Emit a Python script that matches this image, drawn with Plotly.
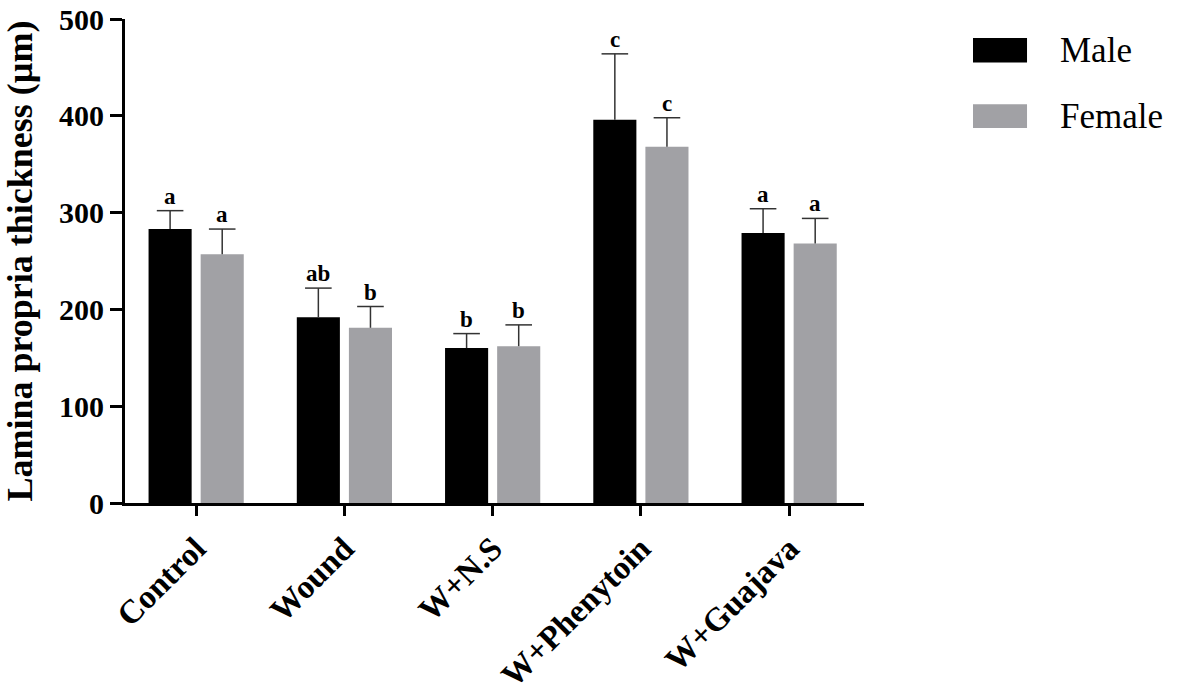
import plotly.graph_objects as go

categories = ["Control", "Wound", "W+N.S", "W+Phenytoin", "W+Guajava"]
series_names = ["Male", "Female"]
male_values = [283, 192, 160, 396, 279]
male_errors = [19, 30, 15, 68, 25]
female_values = [257, 181, 162, 368, 268]
female_errors = [26, 22, 22, 30, 26]
male_letters = ["a", "ab", "b", "c", "a"]
female_letters = ["a", "b", "b", "c", "a"]
y_ticks = [0, 100, 200, 300, 400, 500]

MALE_COLOR = "#000000"
FEMALE_COLOR = "#a1a1a5"
ERR_COLOR = "#333333"
FONT = "Liberation Serif"
BARGAP = 0.297
BARGROUPGAP = 0.173

x_idx = list(range(len(categories)))
series = [
    (series_names[0], male_values, male_errors, MALE_COLOR, male_letters),
    (series_names[1], female_values, female_errors, FEMALE_COLOR, female_letters),
]
slot = (1 - BARGAP) / 2
offsets = [-slot / 2, slot / 2]

fig = go.Figure()
# bars with the vertical stem of the (upper-only) error bars, no end caps
for name, vals, errs, color, _ in series:
    fig.add_trace(go.Bar(
        x=x_idx, y=vals, name=name, offsetgroup=name,
        marker=dict(color=color, line=dict(width=0)),
        error_y=dict(type="data", array=errs, arrayminus=[0] * len(errs),
                     symmetric=False, color=ERR_COLOR, thickness=1.5, width=0),
        showlegend=False,
    ))
# top caps of the error bars
for off, (name, vals, errs, color, letters) in zip(offsets, series):
    fig.add_trace(go.Scatter(
        x=[i + off for i in x_idx], y=[v + e for v, e in zip(vals, errs)],
        mode="markers", showlegend=False, hoverinfo="skip",
        marker=dict(symbol="line-ew", size=19, line=dict(color=ERR_COLOR, width=1.5)),
    ))
    for i, (v, e, t) in enumerate(zip(vals, errs, letters)):
        fig.add_annotation(x=i + off, y=v + e, text=f"<b>{t}</b>", showarrow=False,
                           xref="x", yref="y", yanchor="bottom", yshift=0,
                           font=dict(family=FONT, size=23, color="black"))

# custom legend
legend_items = [(series_names[0], MALE_COLOR, 0.961, 0.910),
                (series_names[1], FEMALE_COLOR, 0.824, 0.775)]
for name, color, y1, y0 in legend_items:
    fig.add_shape(type="rect", xref="paper", yref="paper", x0=1.1475, x1=1.2206,
                  y0=y0, y1=y1, fillcolor=color, line=dict(width=0))
    fig.add_annotation(x=1.2625, y=(y0 + y1) / 2, xref="paper", yref="paper",
                       text=name, showarrow=False, xanchor="left", yanchor="middle",
                       font=dict(family=FONT, size=35, color="black"))

fig.update_layout(
    width=1179, height=698,
    margin=dict(l=125, r=315, t=19, b=195),
    paper_bgcolor="white", plot_bgcolor="white",
    barmode="group", bargap=BARGAP, bargroupgap=BARGROUPGAP,
    font=dict(family=FONT, color="black"),
)
fig.update_xaxes(
    range=[-0.48, 4.505], tickmode="array", tickvals=x_idx, ticktext=categories,
    tickangle=-45, ticks="outside", ticklen=10, tickwidth=3, tickcolor="black",
    showline=True, linewidth=3, linecolor="black", showgrid=False, zeroline=False,
    tickfont=dict(family=FONT, size=33, color="black", weight="bold"),
    automargin=False, ticklabeloverflow="allow",
)
fig.update_yaxes(
    range=[0, 500], tickmode="array", tickvals=y_ticks,
    ticks="outside", ticklen=12, tickwidth=3, tickcolor="black",
    showline=True, linewidth=3, linecolor="black", showgrid=False, zeroline=False,
    tickfont=dict(family=FONT, size=30, color="black", weight="bold"),
    title=dict(text="Lamina propria thickness (µm)", standoff=20,
               font=dict(family=FONT, size=36, color="black", weight="bold")),
    automargin=False, ticklabeloverflow="allow",
)

fig.write_html("out.html", config={"displayModeBar": False},
               post_script="document.body.style.margin='0';document.body.style.padding='0';")
